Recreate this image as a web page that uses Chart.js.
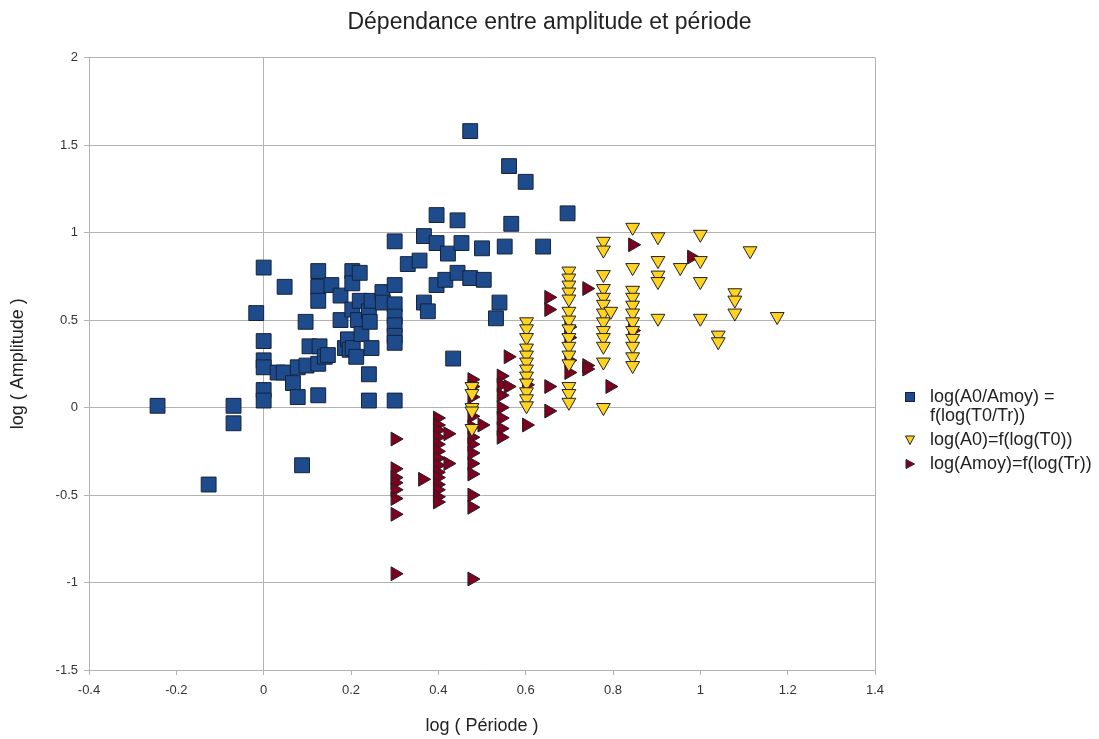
<!DOCTYPE html>
<html>
<head>
<meta charset="utf-8">
<script src="https://cdn.jsdelivr.net/npm/chart.js@4"></script>
<style>
  html, body { margin: 0; padding: 0; background: #fff; }
  #wrap { position: relative; width: 1099px; height: 739px; }
  #legend {
    position: absolute; left: 905px; top: 387px;
    font-family: "Liberation Sans", Arial, sans-serif; font-size: 18px; color: #222;
    line-height: 19px;
  }
  #legend .row { display: flex; align-items: flex-start; margin-bottom: 5px; }
  #legend svg { flex: none; margin: 5px 15px 0 0; }
</style>
</head>
<body>
<div id="wrap">
  <canvas id="scatter" width="1099" height="739"></canvas>
  <div id="legend"></div>
</div>
<script>
// log(A0/Amoy) = f(log(T0/Tr))
const ratioX = [-0.243, -0.126, -0.069, -0.069, -0.017, 0, 0, 0, 0, 0, 0, 0.032, 0.046, 0.048, 0.067, 0.078, 0.078, 0.088,
  0.096, 0.098, 0.105, 0.125, 0.125, 0.125, 0.125, 0.125, 0.128, 0.14, 0.147, 0.155, 0.176, 0.176, 0.186, 0.193, 0.197,
  0.203, 0.203, 0.203, 0.204, 0.212, 0.216, 0.22, 0.22, 0.224, 0.241, 0.241, 0.241, 0.243, 0.247, 0.247, 0.272, 0.273,
  0.30, 0.30, 0.30, 0.30, 0.30, 0.30, 0.30, 0.30, 0.33, 0.357, 0.367, 0.367, 0.376, 0.396, 0.396, 0.396, 0.416, 0.422,
  0.434, 0.444, 0.444, 0.453, 0.473, 0.473, 0.50, 0.504, 0.532, 0.54, 0.552, 0.562, 0.567, 0.60, 0.64, 0.696];
const ratioY = [0.01, -0.44, 0.01, -0.09, 0.54, 0.80, 0.38, 0.27, 0.23, 0.10, 0.04, 0.20, 0.20, 0.69, 0.14, 0.06, 0.23, -0.33,
  0.49, 0.24, 0.35, 0.78, 0.69, 0.61, 0.25, 0.07, 0.35, 0.29, 0.30, 0.70, 0.64, 0.50, 0.34, 0.39, 0.33,
  0.78, 0.71, 0.56, 0.34, 0.29, 0.50, 0.77, 0.61, 0.42, 0.55, 0.19, 0.04, 0.49, 0.61, 0.34, 0.66, 0.60,
  0.95, 0.70, 0.59, 0.52, 0.47, 0.41, 0.37, 0.04, 0.82, 0.84, 0.98, 0.60, 0.55, 1.10, 0.94, 0.70, 0.73, 0.88,
  0.28, 1.07, 0.77, 0.94, 1.58, 0.74, 0.91, 0.73, 0.51, 0.60, 0.92, 1.38, 1.05, 1.29, 0.92, 1.11];

// log(A0) = f(log(T0))
const a0X = [0.477, 0.477, 0.477, 0.477, 0.477,
  0.602, 0.602, 0.602, 0.602, 0.602, 0.602, 0.602, 0.602, 0.602, 0.602, 0.602, 0.602,
  0.699, 0.699, 0.699, 0.699, 0.699, 0.699, 0.699, 0.699, 0.699, 0.699, 0.699, 0.699, 0.699, 0.699, 0.699,
  0.778, 0.778, 0.778, 0.778, 0.778, 0.778, 0.778, 0.778, 0.778, 0.778, 0.778, 0.778, 0.778, 0.795,
  0.845, 0.845, 0.845, 0.845, 0.845, 0.845, 0.845, 0.845, 0.845, 0.845, 0.845, 0.845,
  0.903, 0.903, 0.903, 0.903, 0.903, 0.954, 1.0, 1.0, 1.0, 1.0, 1.041, 1.041, 1.079, 1.079, 1.079, 1.114, 1.176];
const a0Y = [0.12, 0.08, 0.0, -0.02, -0.12,
  0.49, 0.45, 0.40, 0.34, 0.30, 0.26, 0.22, 0.18, 0.14, 0.09, 0.05, 0.01,
  0.78, 0.74, 0.70, 0.66, 0.62, 0.55, 0.50, 0.45, 0.40, 0.35, 0.30, 0.25, 0.12, 0.08, 0.03,
  0.95, 0.90, 0.76, 0.68, 0.63, 0.59, 0.54, 0.49, 0.44, 0.40, 0.35, 0.26, 0.00, 0.55,
  1.03, 0.80, 0.67, 0.63, 0.585, 0.54, 0.49, 0.44, 0.395, 0.35, 0.29, 0.24,
  0.976, 0.84, 0.757, 0.72, 0.51, 0.80, 0.99, 0.84, 0.72, 0.51, 0.414, 0.376, 0.656, 0.614, 0.54, 0.896, 0.52];

// log(Amoy) = f(log(Tr))
const amoyX = [0.301, 0.301, 0.301, 0.301, 0.301, 0.301, 0.301, 0.301, 0.364,
  0.398, 0.398, 0.398, 0.398, 0.398, 0.398, 0.398, 0.398, 0.398, 0.398, 0.398, 0.398, 0.398, 0.398, 0.422, 0.422,
  0.477, 0.477, 0.477, 0.477, 0.477, 0.477, 0.477, 0.477, 0.477, 0.477, 0.477, 0.477, 0.477, 0.50,
  0.544, 0.544, 0.544, 0.544, 0.544, 0.544, 0.544, 0.56, 0.56, 0.602, 0.602,
  0.653, 0.653, 0.653, 0.653, 0.699, 0.699, 0.699, 0.699, 0.74, 0.74, 0.74, 0.793, 0.845, 0.845, 0.98];
const amoyY = [-0.18, -0.35, -0.40, -0.43, -0.47, -0.52, -0.61, -0.95, -0.41,
  -0.06, -0.10, -0.13, -0.17, -0.21, -0.25, -0.29, -0.33, -0.37, -0.40, -0.44, -0.47, -0.51, -0.54, -0.15, -0.32,
  0.16, 0.12, 0.06, -0.05, -0.11, -0.17, -0.21, -0.26, -0.32, -0.38, -0.50, -0.57, -0.98, -0.10,
  0.18, 0.13, 0.07, 0.00, -0.06, -0.12, -0.17, 0.29, 0.12, 0.13, -0.10,
  0.63, 0.56, 0.12, -0.02, 0.46, 0.40, 0.27, 0.20, 0.68, 0.24, 0.22, 0.12, 0.93, 0.44, 0.86];

const seriesNames = ['log(A0/Amoy) = f(log(T0/Tr))', 'log(A0)=f(log(T0))', 'log(Amoy)=f(log(Tr))'];
const blue = '#1d4b8c', yellow = '#ffd320', red = '#7e0021';
const font = '"Liberation Sans", Arial, sans-serif';

const toPoints = (xs, ys) => xs.map((x, i) => ({ x, y: ys[i] }));
const grey = '#b3b3b3';
const fmt = v => { const r = Math.round(v * 10) / 10; return r === 0 ? '0' : String(r); };

const ctx = document.getElementById('scatter').getContext('2d');
new Chart(ctx, {
  type: 'scatter',
  data: {
    datasets: [
      { label: seriesNames[0], data: toPoints(ratioX, ratioY), pointStyle: 'rect', pointRadius: 10.5,
        backgroundColor: blue, borderColor: '#15233a', borderWidth: 1 },
      { label: seriesNames[1], data: toPoints(a0X, a0Y), pointStyle: 'triangle', rotation: 180, pointRadius: 8,
        backgroundColor: yellow, borderColor: '#222', borderWidth: 1 },
      { label: seriesNames[2], data: toPoints(amoyX, amoyY), pointStyle: 'triangle', rotation: 90, pointRadius: 8,
        backgroundColor: red, borderColor: '#222', borderWidth: 1 }
    ]
  },
  options: {
    responsive: false,
    animation: false,
    layout: { padding: { top: 0, right: 0, bottom: 0, left: 0 } },
    plugins: {
      legend: { display: false },
      tooltip: { enabled: false },
      title: {
        display: true, text: 'Dépendance entre amplitude et période', color: '#222',
        font: { family: font, size: 23, weight: 'normal' }, padding: { top: 9, bottom: 21 }
      }
    },
    scales: {
      x: {
        type: 'linear', min: -0.4, max: 1.4,
        afterFit: s => { s.height = 69; },
        ticks: { stepSize: 0.2, color: '#333', font: { family: font, size: 13 }, padding: 8, callback: fmt },
        grid: {
          color: c => (c.tick && (Math.abs(c.tick.value) < 1e-9 || Math.abs(c.tick.value - 1.4) < 1e-9)) ? grey : 'rgba(0,0,0,0)',
          tickColor: grey, tickLength: 5
        },
        border: { color: grey },
        title: { display: true, text: 'log ( Période )', color: '#222', font: { family: font, size: 18 }, padding: { top: 4, bottom: 2 } }
      },
      y: {
        type: 'linear', min: -1.5, max: 2,
        afterFit: s => { s.width = 89; },
        ticks: { stepSize: 0.5, color: '#333', font: { family: font, size: 13 }, padding: 6, callback: fmt },
        grid: { color: grey, tickColor: grey, tickLength: 5 },
        border: { color: grey },
        title: { display: true, text: 'log ( Amplitude )', color: '#222', font: { family: font, size: 18 }, padding: { top: 7, bottom: 4 } }
      },
      // empty right-hand strip that leaves room for the legend
      side: {
        type: 'linear', position: 'right', min: 0, max: 1,
        afterFit: s => { s.width = 224; },
        ticks: { display: false },
        grid: { drawOnChartArea: false, drawTicks: false },
        border: { display: false }
      }
    }
  }
});

// HTML legend
const markers = [
  '<svg width="10" height="10"><rect x="0.5" y="0.5" width="9" height="9" fill="' + blue + '" stroke="#15233a"/></svg>',
  '<svg width="10" height="10"><path d="M0.5 1 L9.5 1 L5 9.5 Z" fill="' + yellow + '" stroke="#222"/></svg>',
  '<svg width="10" height="10"><path d="M1 0.5 L9.5 5 L1 9.5 Z" fill="' + red + '" stroke="#222"/></svg>'
];
const legendText = ['log(A0/Amoy) =<br>f(log(T0/Tr))', seriesNames[1], seriesNames[2]];
document.getElementById('legend').innerHTML = legendText
  .map((t, i) => '<div class="row">' + markers[i] + '<span>' + t + '</span></div>').join('');
</script>
</body>
</html>
